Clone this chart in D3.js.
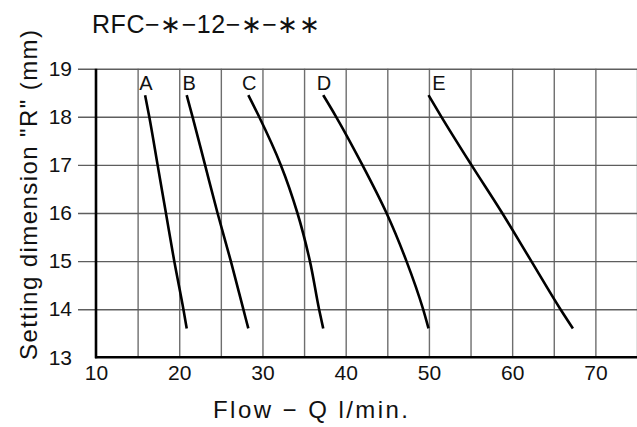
<!DOCTYPE html>
<html>
<head>
<meta charset="utf-8">
<script src="https://cdn.jsdelivr.net/npm/d3@7"></script>
<style>
  html, body { margin: 0; padding: 0; background: #fff; }
  svg { display: block; }
  text { font-family: "Liberation Sans", Arial, sans-serif; fill: #111; }
</style>
</head>
<body>
<svg id="chart" width="637" height="427"></svg>
<script>
// setting dimension R (mm) at which each curve was read
var levels = [18.45, 18, 17, 16, 15, 14, 13.6];

// flow Q (l/min) at those levels
var flowA = [15.9, 16.4, 17.4, 18.4, 19.4, 20.5, 20.9];
var flowB = [20.9, 21.6, 23.1, 24.6, 26.2, 27.7, 28.3];
var flowC = [28.3, 29.6, 32.2, 34.2, 35.7, 36.8, 37.3];
var flowD = [37.3, 38.85, 42.0, 44.9, 47.3, 49.3, 49.95];
var flowE = [49.95, 51.5, 55.1, 58.8, 62.3, 65.8, 67.3];

var curveNames = ['A', 'B', 'C', 'D', 'E'];
var labelFlow = [16.0, 21.2, 28.4, 37.4, 51.2];
var labelLevel = 18.56;

var xTicks = [10, 20, 30, 40, 50, 60, 70];
var xGrid = [15, 20, 25, 30, 35, 40, 45, 50, 55, 60, 65, 70, 75];
var yTicks = [13, 14, 15, 16, 17, 18, 19];

(function() {
  var svg = d3.select('#chart');

  var m = { left: 96, right: 637, top: 68.7, bottom: 357.3 };

  var x = d3.scaleLinear().domain([10, 75]).range([m.left, m.right]);
  var y = d3.scaleLinear().domain([13, 19]).range([m.bottom, m.top]);

  // vertical grid
  svg.append('g')
      .attr('transform', 'translate(0,' + m.bottom + ')')
      .call(d3.axisBottom(x).tickValues(xGrid).tickSize(-(m.bottom - m.top)).tickFormat(''))
      .call(function(g) {
        g.select('.domain').remove();
        g.selectAll('line').attr('stroke', '#6e6e6e').attr('stroke-width', 1.4);
      });

  // horizontal grid, running a little left of the axis as ticks
  svg.append('g')
      .attr('transform', 'translate(' + m.right + ',0)')
      .call(d3.axisLeft(y).tickValues(yTicks.slice(1)).tickSize(m.right - 78).tickFormat(''))
      .call(function(g) {
        g.select('.domain').remove();
        g.selectAll('line').attr('stroke', '#5e5e5e').attr('stroke-width', 1.4);
      });

  // tick labels
  svg.append('g')
      .attr('transform', 'translate(' + m.left + ',0)')
      .call(d3.axisLeft(y).tickValues(yTicks).tickSize(0).tickPadding(24).tickFormat(d3.format('d')))
      .call(function(g) {
        g.select('.domain').remove();
        g.selectAll('text').attr('font-size', 21).attr('fill', '#111')
          .style('font-family', '"Liberation Sans", Arial, sans-serif');
      });

  svg.append('g')
      .attr('transform', 'translate(0,' + m.bottom + ')')
      .call(d3.axisBottom(x).tickValues(xTicks).tickSize(0).tickPadding(8).tickFormat(d3.format('d')))
      .call(function(g) {
        g.select('.domain').remove();
        g.selectAll('text').attr('font-size', 21).attr('fill', '#111')
          .style('font-family', '"Liberation Sans", Arial, sans-serif');
      });

  // axis frame
  svg.append('line')
      .attr('x1', m.left).attr('x2', m.left)
      .attr('y1', y(19)).attr('y2', m.bottom + 1)
      .attr('stroke', '#000').attr('stroke-width', 2.6);
  svg.append('line')
      .attr('x1', m.left - 1).attr('x2', m.right)
      .attr('y1', m.bottom).attr('y2', m.bottom)
      .attr('stroke', '#000').attr('stroke-width', 2.6);

  // curves
  var flows = [flowA, flowB, flowC, flowD, flowE];
  var line = d3.line()
      .x(function(d) { return x(d[0]); })
      .y(function(d) { return y(d[1]); })
      .curve(d3.curveMonotoneY);

  svg.append('g').selectAll('path')
      .data(flows)
    .enter().append('path')
      .attr('d', function(f) {
        var pts = f.map(function(q, i) { return [q, levels[i]]; });
        pts.sort(function(a, b) { return a[1] - b[1]; });
        return line(pts);
      })
      .attr('fill', 'none')
      .attr('stroke', '#000')
      .attr('stroke-width', 2.6);

  svg.append('g').selectAll('text')
      .data(curveNames)
    .enter().append('text')
      .attr('x', function(d, i) { return x(labelFlow[i]); })
      .attr('y', y(labelLevel))
      .attr('text-anchor', 'middle')
      .attr('font-size', 20)
      .text(function(d) { return d; });

  // titles
  svg.append('text')
      .attr('x', 92).attr('y', 33)
      .attr('font-size', 25)
      .attr('textLength', 228)
      .attr('lengthAdjust', 'spacing')
      .text('RFC\u2212\u2217\u221212\u2212\u2217\u2212\u2217\u2217');

  svg.append('text')
      .attr('x', 213).attr('y', 418)
      .attr('font-size', 24)
      .attr('textLength', 195)
      .attr('lengthAdjust', 'spacing')
      .text('Flow \u2212 Q l/min.');

  svg.append('text')
      .attr('transform', 'translate(37,360) rotate(-90)')
      .attr('font-size', 24)
      .attr('textLength', 330)
      .attr('lengthAdjust', 'spacing')
      .text('Setting dimension "R" (mm)');
})();
</script>
</body>
</html>
